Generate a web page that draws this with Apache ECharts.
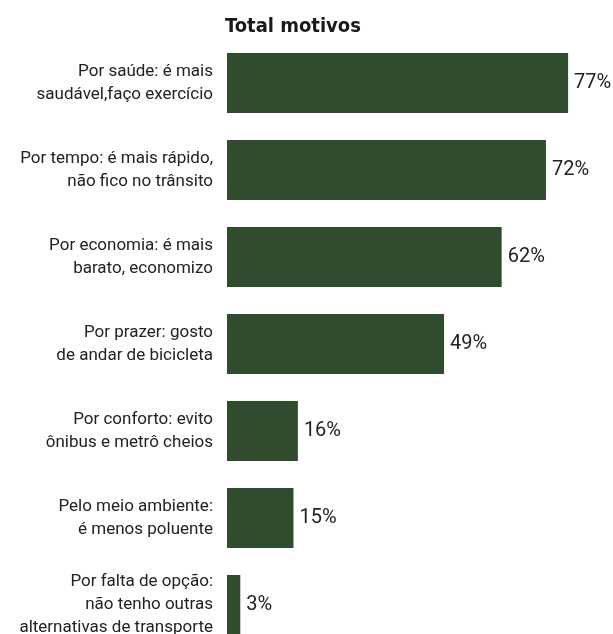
<!DOCTYPE html>
<html><head><meta charset="utf-8">
<script src="https://cdn.jsdelivr.net/npm/echarts@6/dist/echarts.min.js"></script>
<style>html,body{margin:0;padding:0;background:#fff}#c{width:613px;height:634px}</style>
</head><body><div id="c"></div>
<script>
const categories = [
  "Por saúde: é mais\nsaudável,faço exercício",
  "Por tempo: é mais rápido,\nnão fico no trânsito",
  "Por economia: é mais\nbarato, economizo",
  "Por prazer: gosto\nde andar de bicicleta",
  "Por conforto: evito\nônibus e metrô cheios",
  "Pelo meio ambiente:\né menos poluente",
  "Por falta de opção:\nnão tenho outras\nalternativas de transporte"
];
const values = [77, 72, 62, 49, 16, 15, 3];
const titleText = "Total motivos";

const chart = echarts.init(document.getElementById('c'));
chart.setOption({
  animation: false,
  title: {
    text: titleText, left: 288, top: 12, textAlign: 'center',
    textStyle: { fontFamily: 'DejaVu Sans Condensed', fontWeight: 'bold', fontSize: 20, color: '#1a1a1a' }
  },
  grid: { left: 227, top: 39.5, width: 443, height: 609, containLabel: false, outerBoundsMode: 'none' },
  xAxis: { type: 'value', min: 0, max: 100, show: false },
  yAxis: {
    type: 'category', data: categories, inverse: true,
    axisLine: { show: false }, axisTick: { show: false },
    axisLabel: { margin: 14, fontFamily: 'Roboto', fontSize: 17, lineHeight: 23, color: '#222', align: 'right' }
  },
  series: [{
    type: 'bar', data: values, barWidth: 60,
    itemStyle: { color: '#304b2e' },
    label: { show: true, position: 'right', distance: 6, formatter: '{c}%', fontFamily: 'Roboto', fontSize: 20, color: '#222' }
  }]
});
</script></body></html>
